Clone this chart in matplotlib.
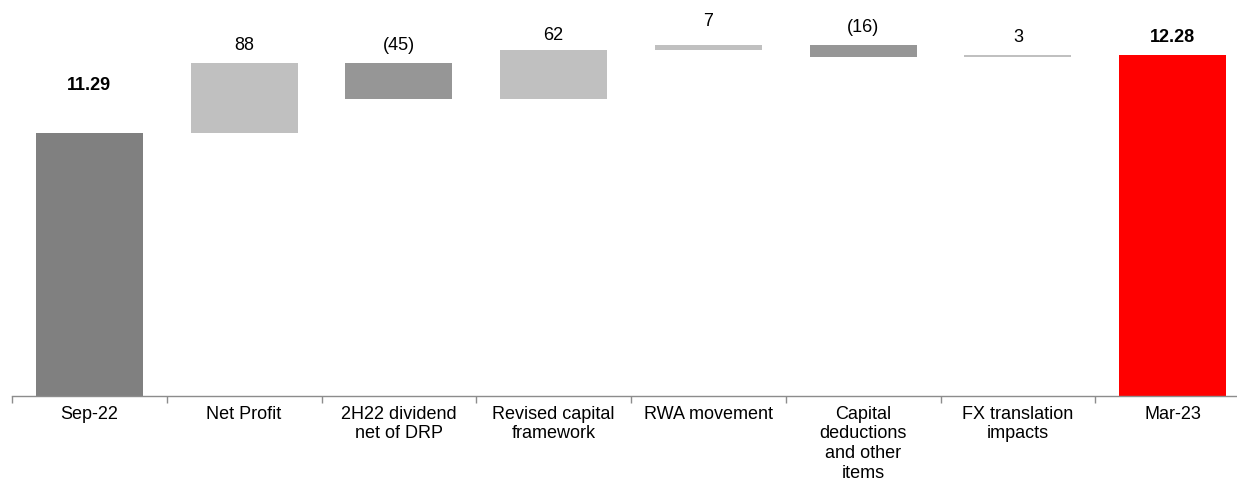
import matplotlib
matplotlib.use("Agg")
import matplotlib.pyplot as plt
import numpy as np

categories = ["Sep-22", "Net Profit", "2H22 dividend\nnet of DRP", "Revised capital\nframework",
              "RWA movement", "Capital\ndeductions\nand other\nitems", "FX translation\nimpacts", "Mar-23"]
start_value = 11.29
changes_bps = [88, -45, 62, 7, -16, 3]
end_value = 12.28
value_labels = ["11.29", "88", "(45)", "62", "7", "(16)", "3", "12.28"]

plt.rcParams['font.family'] = ['Liberation Sans', 'DejaVu Sans']

fig = plt.figure(figsize=(12.37, 4.82), dpi=100)
ax = fig.add_axes([12/1237, 1-396/482, (1250-12)/1237, (396-5)/482])

ymin = 7.95
n = len(categories)
x = np.arange(n)
w = 0.69

bottoms, heights, colors = [], [], []
bottoms.append(ymin); heights.append(start_value - ymin); colors.append('#808080')
level = start_value
for c in changes_bps:
    d = c / 100.0
    if d >= 0:
        bottoms.append(level); heights.append(d); colors.append('#C0C0C0')
    else:
        bottoms.append(level + d); heights.append(-d); colors.append('#969696')
    level += d
bottoms.append(ymin); heights.append(end_value - ymin); colors.append('#FF0000')

ax.bar(x, heights, bottom=bottoms, width=w, color=colors, edgecolor='none')

tops = [b + h for b, h in zip(bottoms, heights)]
for i, (t, lab) in enumerate(zip(tops, value_labels)):
    bold = i in (0, n - 1)
    off = 39 if i == 0 else 9
    if i == 4:
        off = 15
    if i == 3:
        off = 6
    ax.annotate(lab, (x[i], t), xytext=(0, off), textcoords='offset pixels',
                ha='center', va='bottom', fontsize=13,
                fontweight='bold' if bold else 'normal', color='black')

ax.set_xlim(-0.5, n - 0.5)
ax.set_ylim(ymin, ymin + (396 - 5) / 78.8)

for s in ['top', 'right', 'left']:
    ax.spines[s].set_visible(False)
ax.spines['bottom'].set_color('#8c8c8c')
ax.spines['bottom'].set_linewidth(1.0)
ax.set_yticks([])
ax.set_xticks(x)
ax.set_xticklabels(categories, fontsize=13, linespacing=1.2)
ax.tick_params(axis='x', which='major', length=0, pad=7)
ax.set_xticks(np.arange(n) - 0.5, minor=True)
ax.tick_params(axis='x', which='minor', length=5, color='#8c8c8c', width=1.0)

fig.savefig("out.png", dpi=100)
